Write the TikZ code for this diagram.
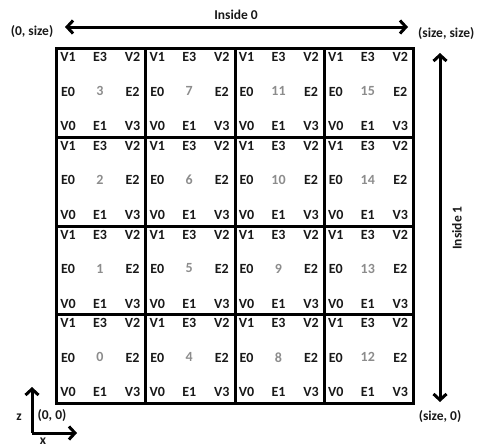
\documentclass[tikz,border=0pt]{standalone}
\usepackage{fontspec}
\setmainfont{Carlito}
\usetikzlibrary{arrows.meta}
\begin{document}
\begin{tikzpicture}[x=1pt,y=-1pt,
  lbl/.style={font=\bfseries\fontsize{14}{14}\selectfont, text=black!90, inner sep=0pt},
  num/.style={font=\bfseries\fontsize{14}{14}\selectfont, text=black!45, inner sep=0pt},
  outer/.style={font=\bfseries\fontsize{13.5}{13.5}\selectfont, text=black!90, inner sep=0pt},
  cellbox/.style={draw=black, line width=3pt, minimum width=89.25pt, minimum height=88.75pt, inner sep=0pt},
  bigarrow/.style={line width=3pt, {Straight Barb[length=6pt,width=13pt]}-{Straight Barb[length=6pt,width=13pt]}},
  axisarrow/.style={line width=3pt, -{Straight Barb[length=6pt,width=13pt]}}
]
\useasboundingbox (0,0) rectangle (478,447);
\foreach \i in {0,1,2,3}{
  \foreach \j in {0,1,2,3}{
    \pgfmathtruncatemacro{\n}{4*\i+\j}
    \pgfmathsetmacro{\cx}{55+\i*89.25}
    \pgfmathsetmacro{\cy}{47+(3-\j)*88.75}
    \node[cellbox, anchor=north west] (cell\n) at (\cx,\cy) {};
    \node[lbl] (v1-\n) at (\cx+13,\cy+10) {V1};
    \node[lbl] (e3-\n) at (\cx+45,\cy+10) {E3};
    \node[lbl] (v2-\n) at (\cx+77.5,\cy+10) {V2};
    \node[lbl] (e0-\n) at (\cx+13,\cy+44.5) {E0};
    \node[num] (n-\n) at (\cx+45,\cy+44) {\n};
    \node[lbl] (e2-\n) at (\cx+77.5,\cy+44.5) {E2};
    \node[lbl] (v0-\n) at (\cx+13,\cy+79) {V0};
    \node[lbl] (e1-\n) at (\cx+45,\cy+79) {E1};
    \node[lbl] (v3-\n) at (\cx+77.5,\cy+79) {V3};
  }
}
% top arrow
\coordinate (tl) at (65,27);
\coordinate (tr) at (408,27);
\draw[bigarrow] (tl) -- (tr);
\node[outer] (ins0) at (236,15) {Inside 0};
\node[outer] (zs) at (32,32) {(0, size)};
\node[outer, anchor=west] (ss) at (418,34) {(size, size)};
% right arrow
\coordinate (rt) at (440,53);
\coordinate (rb) at (440,402);
\draw[bigarrow] (rt) -- (rb);
\node[outer, rotate=90] (ins1) at (457,228) {Inside 1};
\node[outer] (s0) at (440,417) {(size, 0)};
% axes
\coordinate (o) at (32,433);
\coordinate (zt) at (32,387);
\coordinate (xt) at (77,433);
\draw[axisarrow] (o) -- (zt);
\draw[axisarrow] (o) -- (xt);
\node[outer] (zl) at (19,417) {z};
\node[outer] (oo) at (52,416) {(0, 0)};
\node[outer] (xl) at (43,441) {x};
\end{tikzpicture}
\end{document}
